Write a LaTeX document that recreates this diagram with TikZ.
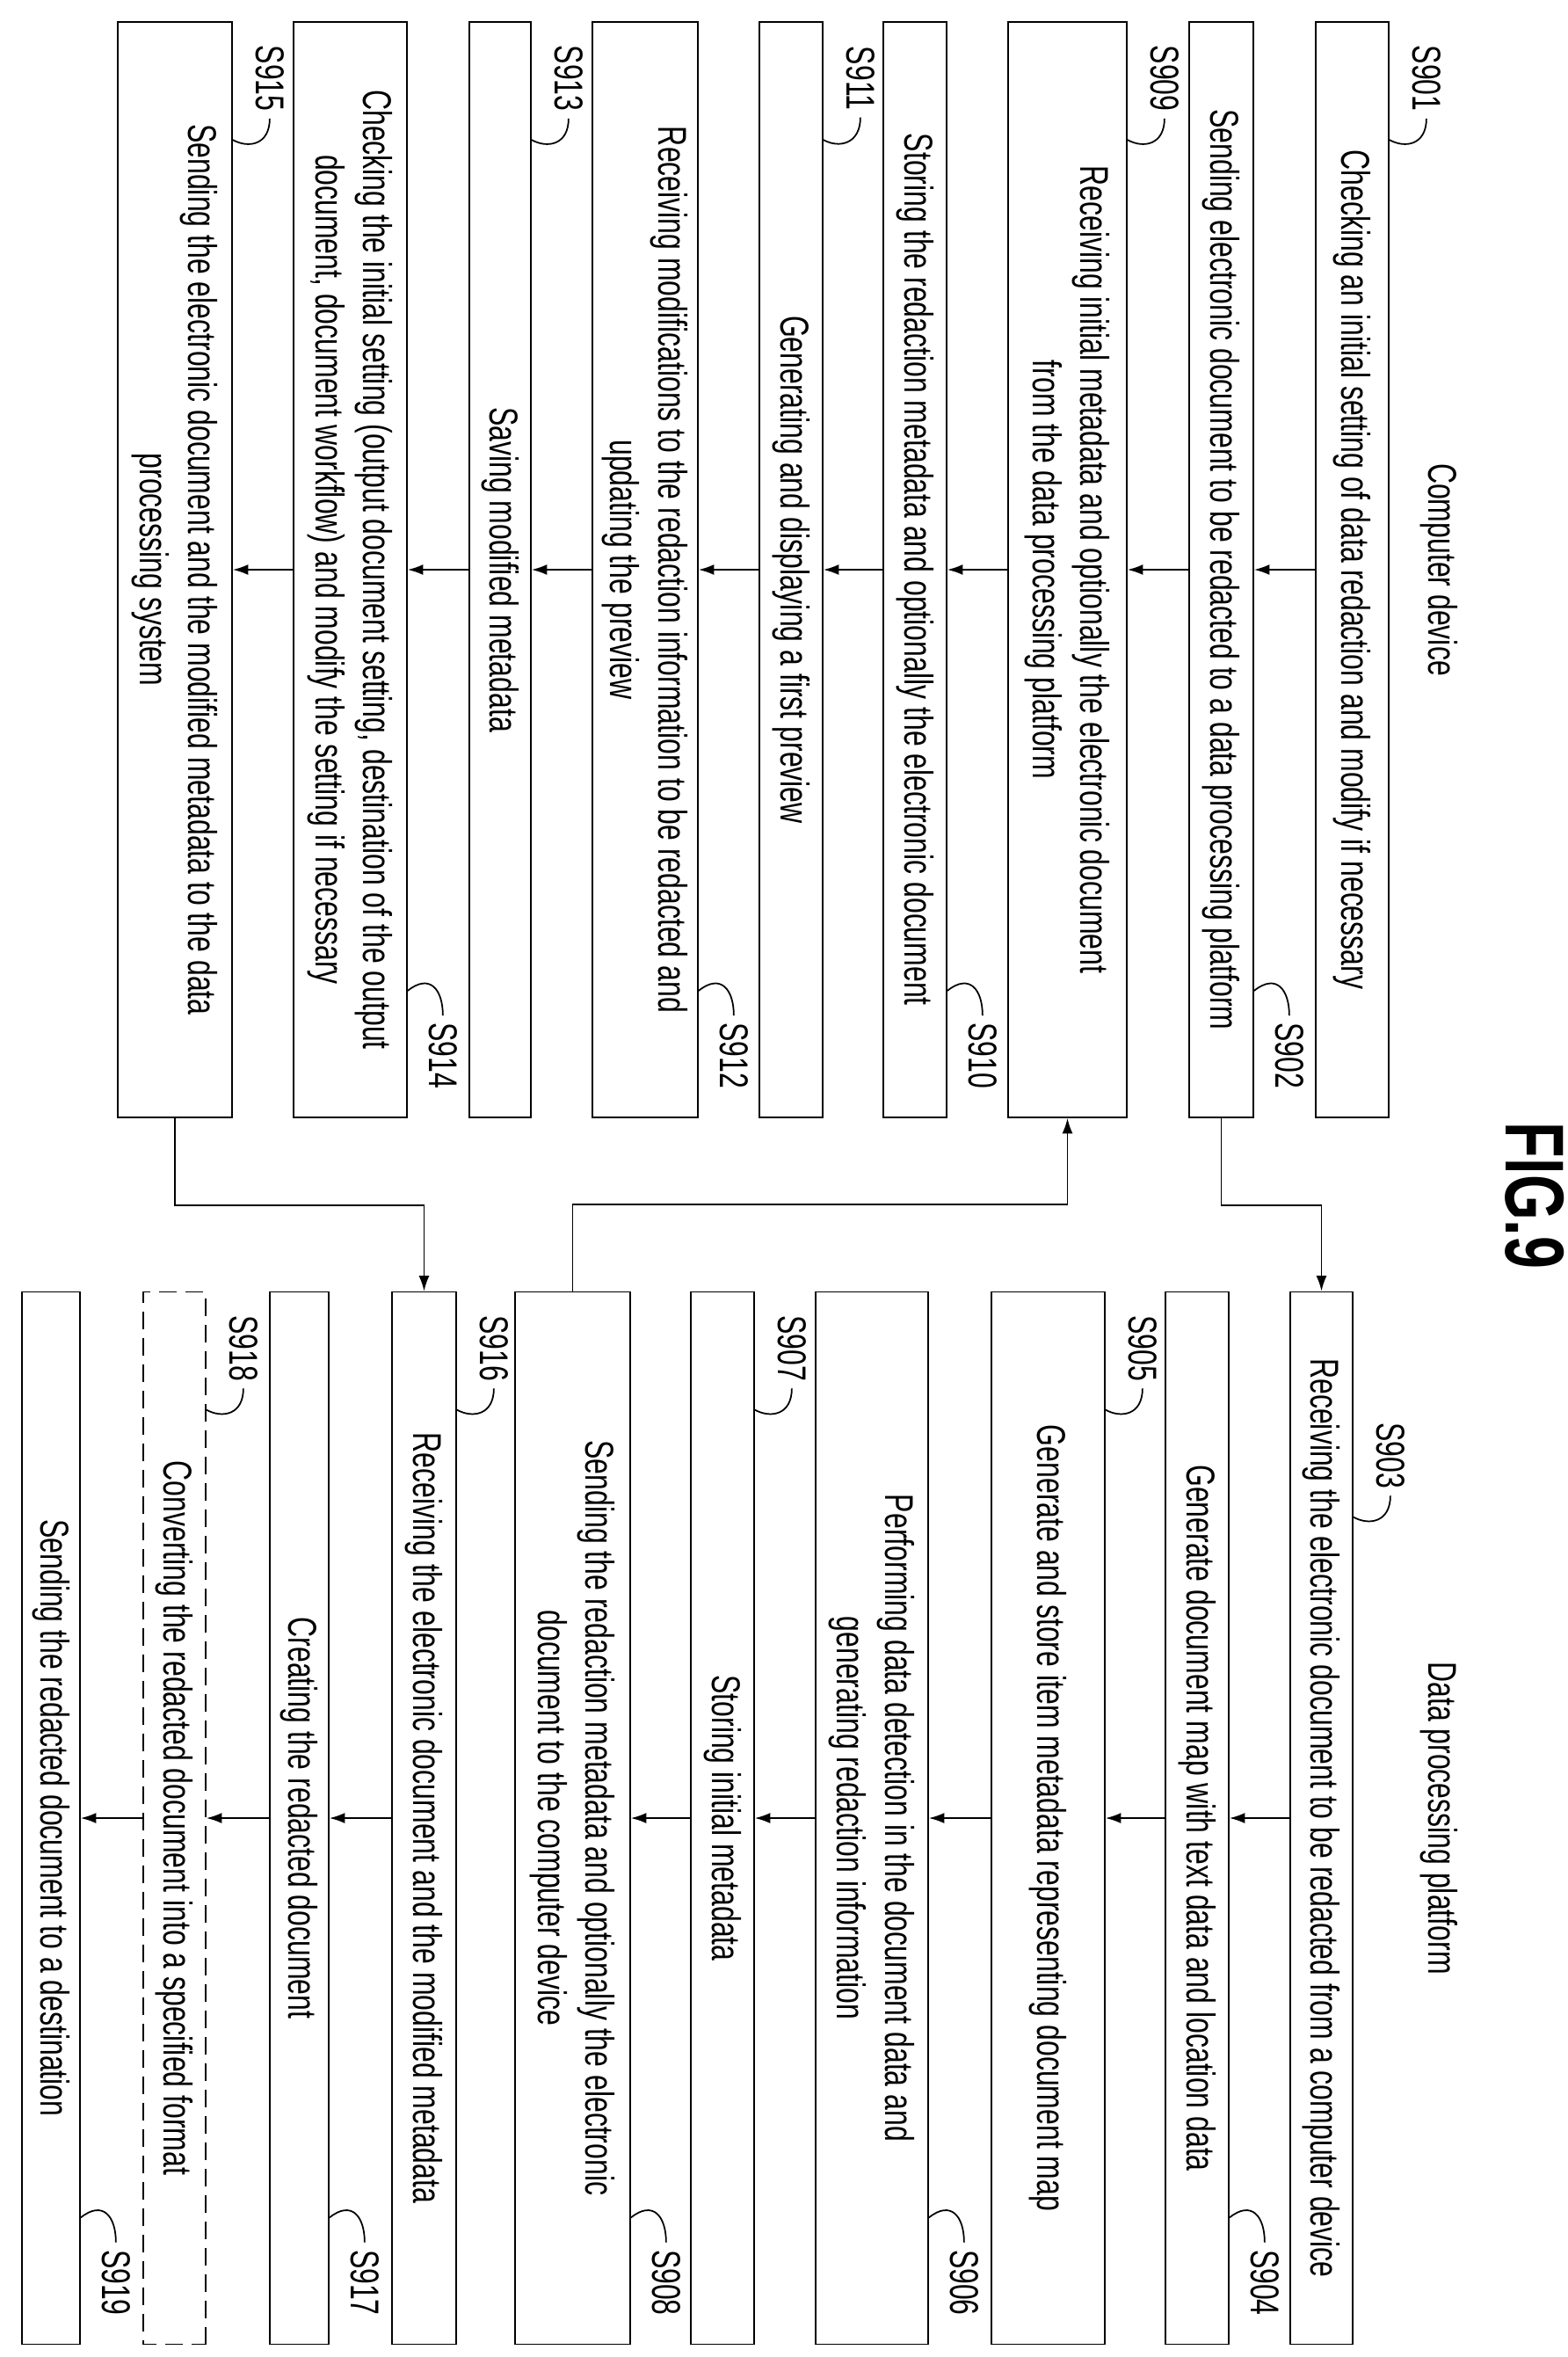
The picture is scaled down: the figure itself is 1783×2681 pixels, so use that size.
\documentclass[tikz,border=0pt]{standalone}
\usepackage{fontspec}
\setmainfont[FakeStretch=0.7]{Liberation Sans}
\usetikzlibrary{calc,arrows.meta}
\tikzset{
  stepbox/.style={
    draw, line width=1pt,
    rotate=-90,
    inner sep=0pt,
    align=center
  },
  leftbox/.style={stepbox, minimum width=249.2mm},
  rightbox/.style={stepbox, minimum width=239.4mm},
  steplab/.style={rotate=-90, inner sep=0pt},
  tilde/.style={line width=1pt},
}
% step number with its little hook, near the top or the bottom of a box
\newcommand{\steptop}[3][0]{%
  \coordinate (#2-p) at ($(#2.north west)+(0,135+#1)$);
  \node[steplab] (#2-l) at ($(#2.north west)+(42,65+#1)$) {#3};
  \draw[tilde] (#2-p) .. controls +(18,10) and +(0,30) .. ($(#2-l.east)+(0,8)$);
}
\newcommand{\stepbot}[2]{%
  \coordinate (#1-p) at ($(#1.north east)+(0,-145)$);
  \node[steplab] (#1-l) at ($(#1.north east)+(40,-71)$) {#2};
  \draw[tilde] (#1-p) .. controls +(25,-20) and +(0,-30) .. ($(#1-l.west)+(0,-8)$);
}
\begin{document}
\begin{tikzpicture}[x=0.2mm,y=-0.2mm,font=\fontsize{26}{31}\selectfont,
  >={Latex[length=3.5mm,width=2.4mm]}]
  \useasboundingbox (0,0) rectangle (1783,2681);

  \node[rotate=-90,font=\fontsize{54}{60}\selectfont\bfseries] (fig) at (1746,1360) {FIG.9};
  \node[steplab] (hcd) at (1637,648) {Computer device};
  \node[steplab] (hdp) at (1637,2068) {Data processing platform};

  % computer device
  \node[leftbox, minimum height=16.6mm] (b901) at (1538.5,648)
    {Checking an initial setting of data redaction and modify if necessary};
  \node[leftbox, minimum height=14.6mm] (b902) at (1389.5,648)
    {Sending electronic document to be redacted to a data processing platform};
  \node[leftbox, minimum height=27mm] (b909) at (1214.5,648)
    {Receiving initial metadata and optionally the electronic document\\ from the data processing platform};
  \node[leftbox, minimum height=14.4mm] (b910) at (1041,648)
    {Storing the redaction metadata and optionally the electronic document};
  \node[leftbox, minimum height=14.4mm] (b911) at (900,648)
    {Generating and displaying a first preview};
  \node[leftbox, minimum height=24mm] (b912) at (734,648)
    {Receiving modifications to the redaction information to be redacted and\\ updating the preview};
  \node[leftbox, minimum height=14mm] (b913) at (569,648)
    {Saving modified metadata};
  \node[leftbox, minimum height=25.8mm] (b914) at (398.5,648)
    {Checking the initial setting (output document setting, destination of the output\\ document, document workflow) and modify the setting if necessary};
  \node[leftbox, minimum height=26mm] (b915) at (199,648)
    {Sending the electronic document and the modified metadata to the data\\ processing system};

  % data processing platform
  \node[rightbox, minimum height=14.2mm] (b903) at (1503.5,2068)
    {Receiving the electronic document to be redacted from a computer device};
  \node[rightbox, minimum height=14.4mm] (b904) at (1362,2068)
    {Generate document map with text data and location data};
  \node[rightbox, minimum height=25.8mm] (b905) at (1192.5,2068)
    {Generate and store item metadata representing document map};
  \node[rightbox, minimum height=25.6mm] (b906) at (992,2068)
    {Performing data detection in the document data and\\ generating redaction information};
  \node[rightbox, minimum height=14.4mm] (b907) at (822,2068)
    {Storing initial metadata};
  \node[rightbox, minimum height=26.2mm] (b908) at (651.5,2068)
    {Sending the redaction metadata and optionally the electronic\\ document to the computer device};
  \node[rightbox, minimum height=14.6mm] (b916) at (482.5,2068)
    {Receiving the electronic document and the modified metadata};
  \node[rightbox, minimum height=13.4mm] (b917) at (340.5,2068)
    {Creating the redacted document};
  \node[rightbox, minimum height=14.2mm, dash pattern=on 4mm off 2mm] (b918) at (198.5,2068)
    {Converting the redacted document into a specified format};
  \node[rightbox, minimum height=13.2mm] (b919) at (58,2068)
    {Sending the redacted document to a destination};

  \steptop{b901}{S901} \stepbot{b902}{S902}
  \steptop{b909}{S909} \stepbot{b910}{S910}
  \steptop{b911}{S911} \stepbot{b912}{S912}
  \steptop{b913}{S913} \stepbot{b914}{S914}
  \steptop{b915}{S915}
  \steptop[122]{b903}{S903} \stepbot{b904}{S904}
  \steptop{b905}{S905} \stepbot{b906}{S906}
  \steptop{b907}{S907} \stepbot{b908}{S908}
  \steptop{b916}{S916} \stepbot{b917}{S917}
  \steptop{b918}{S918} \stepbot{b919}{S919}

  \path[->,line width=1pt]
    (b901.south) edge (b902.north)
    (b902.south) edge (b909.north)
    (b909.south) edge (b910.north)
    (b910.south) edge (b911.north)
    (b911.south) edge (b912.north)
    (b912.south) edge (b913.north)
    (b913.south) edge (b914.north)
    (b914.south) edge (b915.north)
    (b903.south) edge (b904.north)
    (b904.south) edge (b905.north)
    (b905.south) edge (b906.north)
    (b906.south) edge (b907.north)
    (b907.south) edge (b908.north)
    (b916.south) edge (b917.north)
    (b917.south) edge (b918.north)
    (b918.south) edge (b919.north);

  \draw[->,line width=1pt] (b902.east) -- ++(0,99) -| (b903.west);
  \draw[->,line width=1pt] (b908.west) -- ++(0,-99) -| (b909.east);
  \draw[->,line width=1pt] (b915.east) -- ++(0,99) -| (b916.west);
\end{tikzpicture}
\end{document}
